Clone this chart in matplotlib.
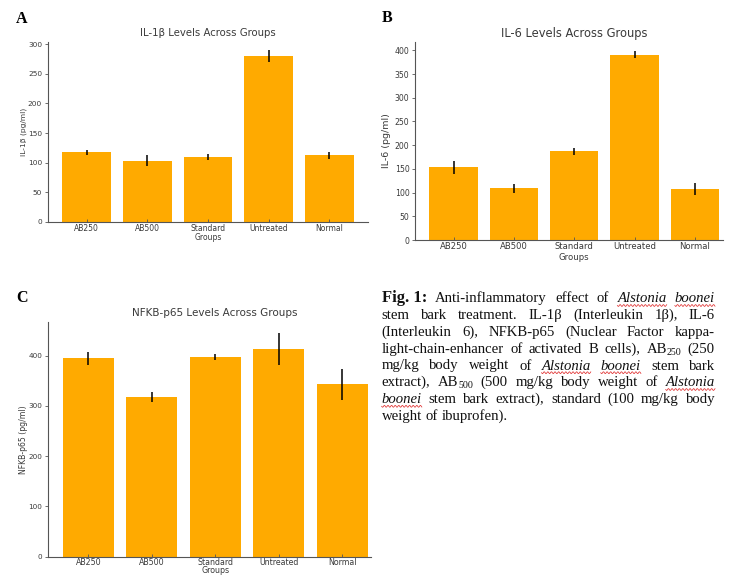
import matplotlib
matplotlib.use('Agg')
import matplotlib.pyplot as plt
import numpy as np
from matplotlib.lines import Line2D

W, H = 731, 575

# ---------------- data ----------------
groups = ['AB250', 'AB500', 'Standard', 'Untreated', 'Normal']
il1b_mean = [118.0, 103.5, 109.7, 279.8, 112.5]
il1b_err = [4.2, 9.5, 5.3, 10.0, 6.4]
il6_mean = [153.0, 108.8, 186.7, 390.9, 107.4]
il6_err = [13.3, 10.2, 7.7, 7.4, 13.0]
nfkb_mean = [394.7, 318.5, 397.4, 413.9, 343.0]
nfkb_err = [13.5, 10.2, 5.0, 31.5, 31.2]
titles = ['IL-1β Levels Across Groups', 'IL-6 Levels Across Groups',
          'NFKB-p65 Levels Across Groups']
ylabels = ['IL-1β (pg/ml)', 'IL-6 (pg/ml)', 'NFKB-p65 (pg/ml)']
xlabel = 'Groups'
ticks_A = [0, 50, 100, 150, 200, 250, 300]
ticks_B = [0, 50, 100, 150, 200, 250, 300, 350, 400]
ticks_C = [0, 100, 200, 300, 400]
panel_letters = ['A', 'B', 'C']

caption_lines = [
    "!Fig.~1: Anti-inflammatory effect of *Alstonia *boonei",
    "stem bark treatment. IL-1β (Interleukin 1β), IL-6",
    "(Interleukin 6), NFKB-p65 (Nuclear Factor kappa-",
    "light-chain-enhancer of activated B cells), AB_250 (250",
    "mg/kg body weight of *Alstonia *boonei stem bark",
    "extract), AB_500 (500 mg/kg body weight of *Alstonia",
    "*boonei stem bark extract), standard (100 mg/kg body",
    "weight of ibuprofen).",
]

BAR = '#FFAA00'
TXT = '#3a3a3a'
SPINE = '#555555'

fig = plt.figure(figsize=(W / 100, H / 100), dpi=100)


def add_ax(l, t, r, b):
    return fig.add_axes([l / W, 1 - b / H, (r - l) / W, (b - t) / H])


panels = [
    dict(box=(47.7, 41.7, 368.3, 222.0), xr=4.64, mean=il1b_mean, err=il1b_err,
         ticks=ticks_A, tsize=7.3, lsize=5.4, ticksize=5.3, xticksize=5.5,
         ylab_dx=23.7, xlab_dy=15.7, letter=(16.0, 22.7)),
    dict(box=(415.0, 41.7, 722.7, 240.0), xr=4.46, mean=il6_mean, err=il6_err,
         ticks=ticks_B, tsize=8.3, lsize=6.8, ticksize=5.6, xticksize=6.1,
         ylab_dx=28.3, xlab_dy=17.7, letter=(382.0, 22.0)),
    dict(box=(47.7, 321.7, 370.7, 556.7), xr=4.45, mean=nfkb_mean, err=nfkb_err,
         ticks=ticks_C, tsize=7.5, lsize=5.6, ticksize=5.2, xticksize=5.7,
         ylab_dx=24.4, xlab_dy=13.8, letter=(16.0, 301.7)),
]

x = np.arange(len(groups))
for i, p in enumerate(panels):
    ax = add_ax(*p['box'])
    ax.bar(x, p['mean'], width=0.8, color=BAR, yerr=p['err'],
           error_kw=dict(ecolor='black', elinewidth=1.1, capsize=0))
    ax.set_xlim(-0.64, p['xr'])
    ax.set_xticks(x)
    ax.set_xticklabels(groups)
    ax.set_yticks(p['ticks'])
    for s in ['top', 'right']:
        ax.spines[s].set_visible(False)
    for s in ['left', 'bottom']:
        ax.spines[s].set_color(SPINE)
        ax.spines[s].set_linewidth(0.8)
    ax.tick_params(axis='y', direction='out', length=2, width=0.6, color=SPINE,
                   labelcolor=TXT, labelsize=p['ticksize'], pad=2)
    ax.tick_params(axis='x', direction='in', length=2, width=0.6, color=SPINE,
                   labelcolor=TXT, labelsize=p['xticksize'], pad=1.2)
    ax.annotate(titles[i], xy=(2, 1), xycoords=('data', 'axes fraction'),
                xytext=(0, 8.4 * 0.72), textcoords='offset points',
                ha='center', va='center', fontsize=p['tsize'], color=TXT)
    ax.annotate(xlabel, xy=(2, 0), xycoords=('data', 'axes fraction'),
                xytext=(0, -p['xlab_dy'] * 0.72), textcoords='offset points',
                ha='center', va='center', fontsize=p['xticksize'], color=TXT)
    ax.annotate(ylabels[i], xy=(0, 0.5), xycoords='axes fraction',
                xytext=(-p['ylab_dx'] * 0.72, 0), textcoords='offset points',
                ha='center', va='center', rotation=90, rotation_mode='anchor',
                fontsize=p['lsize'], color=TXT)
    lx, ly = p['letter']
    fig.text(lx / W, 1 - ly / H, panel_letters[i], ha='left', va='baseline',
             family='Liberation Serif', weight='bold', fontsize=11.5, color='black')

# ---------------- caption (justified) ----------------
renderer = fig.canvas.get_renderer()
CAP_L, CAP_R = 381.7, 715.0
BASE0, LSTEP = 302.3, 16.8
REG = 10.6
BOLD = 12.0
SERIF = 'Liberation Serif'


def parse_word(w):
    if w.startswith('!'):
        return [(w[1:].replace('~', ' '), 'b')]
    if w.startswith('*'):
        return [(w[1:], 'i')]
    if '_' in w:
        a, b = w.split('_')
        return [(a, 'r'), (b, 's')]
    return [(w, 'r')]


def style_kw(st):
    if st == 'b':
        return dict(family=SERIF, weight='bold', fontsize=BOLD)
    if st == 'i':
        return dict(family=SERIF, style='italic', fontsize=REG)
    if st == 's':
        return dict(family=SERIF, fontsize=REG * 0.68)
    return dict(family=SERIF, fontsize=REG)


def seg_width(txt, st):
    t = fig.text(0, 0, txt, **style_kw(st))
    wd = t.get_window_extent(renderer=renderer).width
    t.remove()
    return wd


space_w = seg_width('a a', 'r') - seg_width('aa', 'r')

for li, line in enumerate(caption_lines):
    words = [parse_word(w) for w in line.split(' ')]
    widths = [[seg_width(t, s) for t, s in wd] for wd in words]
    totals = [sum(ws) for ws in widths]
    last = (li == len(caption_lines) - 1)
    if last or len(words) == 1:
        gap = space_w
    else:
        gap = (CAP_R - CAP_L - sum(totals)) / (len(words) - 1)
    yb = BASE0 + li * LSTEP
    cx = CAP_L
    for wd, ws in zip(words, widths):
        x0 = cx
        for (t, s), sw in zip(wd, ws):
            yy = yb + (2.2 if s == 's' else 0)
            fig.text(cx / W, 1 - yy / H, t, ha='left', va='baseline',
                     color='#111111', **style_kw(s))
            cx += sw
        if wd[0][1] == 'i':
            xs = np.linspace(x0, cx, max(int((cx - x0) * 3), 10))
            ys = yb + 3.2 + 0.9 * np.sin((xs - x0) / 3.6 * 2 * np.pi)
            fig.add_artist(Line2D(xs / W, 1 - ys / H, transform=fig.transFigure,
                                  color='#e03030', lw=0.55))
        cx += gap

fig.savefig('out.png', dpi=100)
